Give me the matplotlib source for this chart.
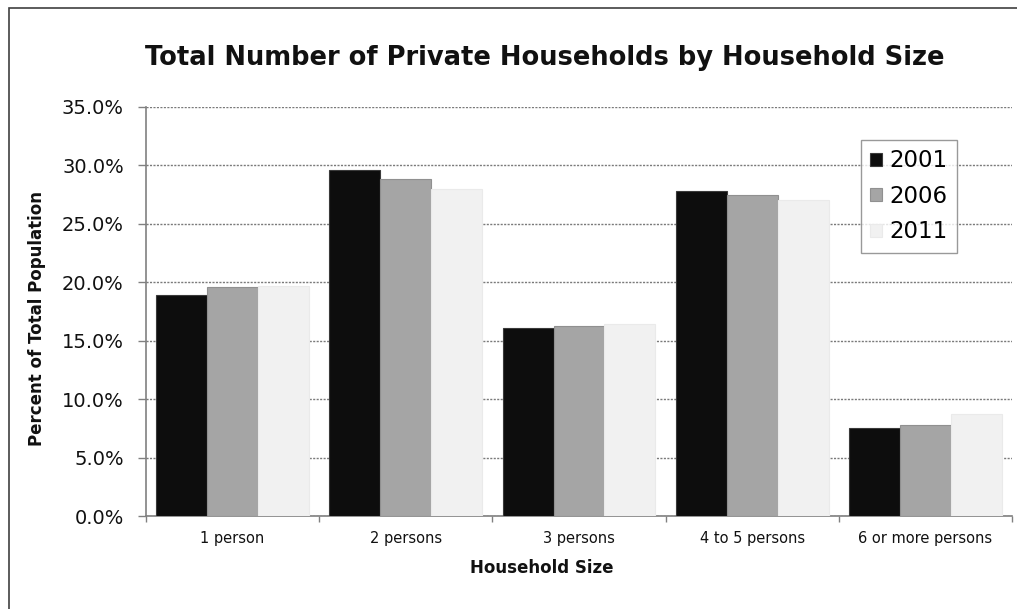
import matplotlib
matplotlib.use("Agg")
import matplotlib.pyplot as plt
import numpy as np
from matplotlib.patches import Rectangle

categories = ["1 person", "2 persons", "3 persons", "4 to 5 persons", "6 or more persons"]
years = ["2001", "2006", "2011"]
values_2001 = [18.9, 29.6, 16.1, 27.8, 7.5]
values_2006 = [19.6, 28.8, 16.3, 27.5, 7.8]
values_2011 = [19.7, 28.0, 16.4, 27.0, 8.7]
colors = ["#0d0d0d", "#a5a5a5", "#f1f1f1"]
yticks = [0, 5, 10, 15, 20, 25, 30, 35]

plt.rcParams['font.family'] = ['DejaVu Sans']

W, H = 1017, 609
fig = plt.figure(figsize=(W / 100, H / 100), dpi=100)
ax = fig.add_axes([146/W, 1 - 516/H, (1012-146)/W, (516-107)/H])

x = np.arange(len(categories))
w = 0.294
series = [values_2001, values_2006, values_2011]
edges = ["#3a3a3a", "#909090", "#eaeaea"]
for i, (vals, yr, c) in enumerate(zip(series, years, colors)):
    ax.bar(x + (i - 1) * w, vals, width=w, color=c, edgecolor=edges[i], linewidth=0.8,
           label=yr, zorder=3)

ax.set_xlim(-0.5, len(categories) - 0.5)
ax.set_ylim(0, 35)
ax.set_yticks(yticks)
ax.set_yticklabels([f"{v:.1f}%" for v in yticks], fontsize=14, color="#111111")
ax.yaxis.grid(True, linestyle=(0, (1.5, 1)), color="#7a7a7a", linewidth=1.0, zorder=0)
ax.set_axisbelow(True)

ax.set_xticks(x)
ax.set_xticklabels(categories, fontsize=10.5, color="#111111")
ax.set_xticks(np.arange(-0.5, len(categories)), minor=True)
ax.tick_params(axis='x', which='major', length=0, pad=11)
ax.tick_params(axis='x', which='minor', length=4.5, width=1, color="#808080", direction='out')
ax.tick_params(axis='y', length=6, width=1, color="#808080", pad=10)

for s in ["top", "right"]:
    ax.spines[s].set_visible(False)
for s in ["left", "bottom"]:
    ax.spines[s].set_color("#808080")
    ax.spines[s].set_linewidth(1.2)

fig.text(542/W, 1 - 568/H, "Household Size", ha="center", va="center",
         fontsize=12, fontweight="bold", color="#111111")
fig.text(37/W, 1 - 319/H, "Percent of Total Population", ha="center", va="center",
         rotation=90, fontsize=12, fontweight="bold", color="#111111")

fig.text(545/W, 1 - 58/H, "Total Number of Private Households by Household Size",
         ha="center", va="center", fontsize=18.5, fontweight="bold", color="#111111")

leg = ax.legend(loc="upper left", bbox_to_anchor=((861-146)/866, (516-140)/409),
                fontsize=16.5, frameon=True, fancybox=False, edgecolor="#808080",
                handlelength=0.5, handleheight=0.5, handletextpad=0.35,
                borderpad=0.4, labelspacing=0.55, borderaxespad=0)
leg.get_frame().set_linewidth(1.0)

fig.patches.append(Rectangle((9/W, -0.1), 1.2, 1 - 8/H + 0.1, transform=fig.transFigure,
                             fill=False, edgecolor="#404040", linewidth=1.2))

fig.savefig("out.png", dpi=100)
